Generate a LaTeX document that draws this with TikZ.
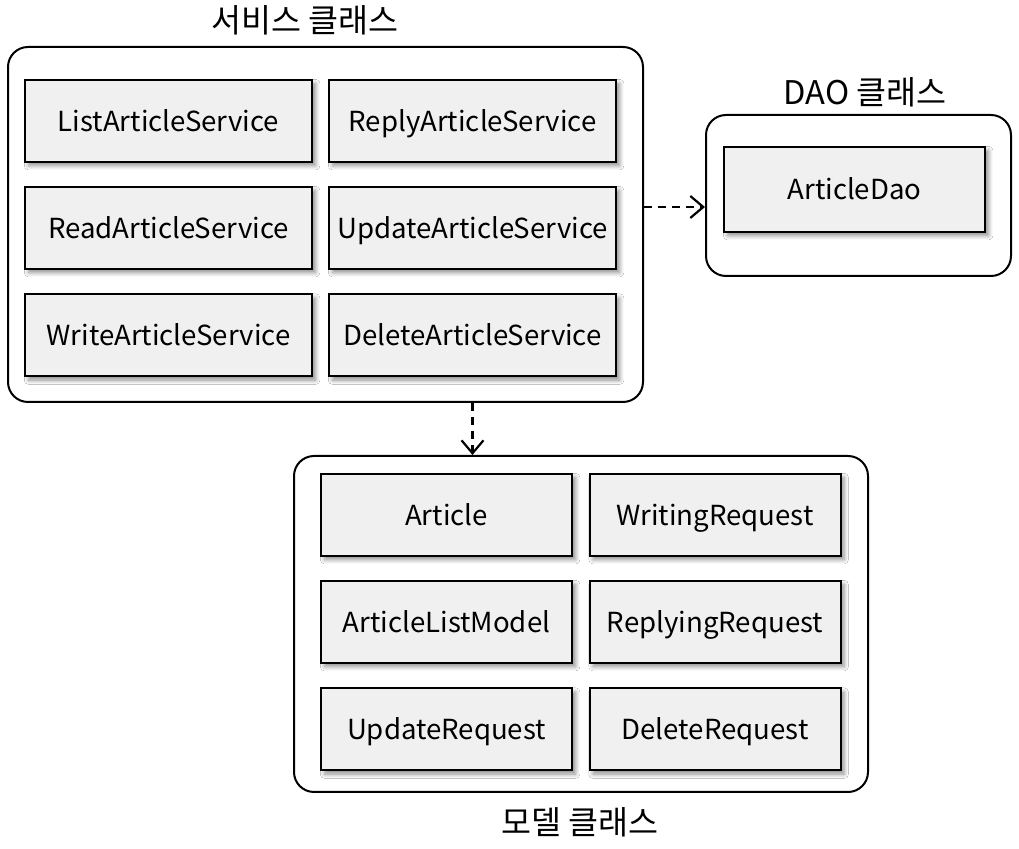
\documentclass[tikz,border=0pt]{standalone}
\usepackage{fontspec}
\setmainfont{Noto Sans CJK KR}
\usetikzlibrary{arrows.meta,shadows.blur}

\tikzset{
    group/.style={draw, line width=1pt, rounded corners=10pt, fill=white},
    cls/.style={draw, line width=1pt, fill=gray!12, minimum height=41pt,
        font=\fontsize{13.8}{16}\selectfont, inner sep=0pt, text height=2.2ex, text depth=0.28ex,
        blur shadow={shadow xshift=1.8pt, shadow yshift=-1.8pt, shadow blur steps=6, shadow opacity=45}},
    title/.style={font=\fontsize{16.3}{18}\selectfont},
    dep/.style={line width=1.1pt, dashed, dash pattern=on 4pt off 3pt, -{Straight Barb[length=6.5pt,width=11pt]}}
}

\begin{document}
\begin{tikzpicture}[x=0.5pt, y=-0.5pt]
    \useasboundingbox (0,0) rectangle (1019,849);

    % Group boxes
    \node[group, minimum width=317.5pt, minimum height=177.5pt] (svc) at (325.5,224.5) {};
    \node[group, minimum width=152.5pt, minimum height=80.5pt] (daogrp) at (858.5,195.5) {};
    \node[group, minimum width=287pt, minimum height=168pt] (mdl) at (581,624) {};

    \node[title] (svctitle) at (305,20) {서비스 클래스};
    \node[title] (daotitle) at (865,92) {DAO 클래스};
    \node[title] (mdltitle) at (580,822) {모델 클래스};

    % Service classes
    \foreach \name/\txt/\x/\y in {list/ListArticleService/168.5/121,
                                 read/ReadArticleService/168.5/228,
                                 write/WriteArticleService/168.5/335.5,
                                 reply/ReplyArticleService/472.5/121,
                                 update/UpdateArticleService/472.5/228,
                                 delete/DeleteArticleService/472.5/335.5} {
        \node[cls, minimum width=143.5pt] (\name) at (\x,\y) {\txt};
    }

    % DAO class
    \node[cls, minimum width=130.5pt, minimum height=42.5pt] (dao) at (854.5,189.5) {ArticleDao};

    % Model classes
    \foreach \name/\txt/\x/\y in {art/Article/446.5/515,
                                 artlist/ArticleListModel/446.5/622,
                                 updreq/UpdateRequest/446.5/729.5,
                                 wrtreq/WritingRequest/715/515,
                                 repreq/ReplyingRequest/715/622,
                                 delreq/DeleteRequest/715/729.5} {
        \node[cls, minimum width=125.5pt] (\name) at (\x,\y) {\txt};
    }

    % Dependencies
    \coordinate (arr) at (643,207);
    \draw[dep] (svc.east |- arr) -- (daogrp.west |- arr);
    \draw[dep] (svc.south -| reply.center) -- (mdl.north -| reply.center);

\end{tikzpicture}
\end{document}
